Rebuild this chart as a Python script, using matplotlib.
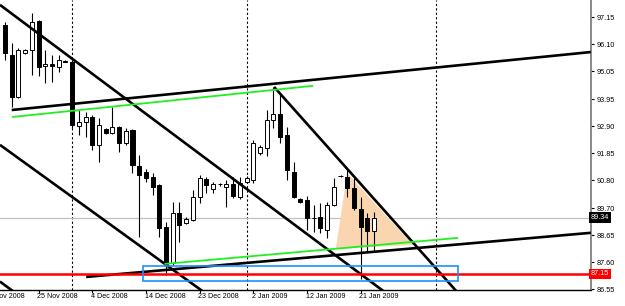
import numpy as np
import matplotlib.pyplot as plt
from matplotlib.patches import Rectangle, Polygon
import matplotlib.transforms as mtransforms

plt.rcParams['font.family'] = ['Liberation Sans', 'DejaVu Sans']

# Velas diarias (USDJPY), una por barra, desde el 19 Nov 2008 al 23 Ene 2009
aperturas = [96.86, 95.69, 94.05, 95.77, 95.88, 97.01, 95.26, 95.34, 95.22, 95.45,
             95.41, 92.92, 93.07, 93.27, 92.18, 92.80, 92.65, 92.88, 92.26, 92.76,
             91.36, 91.12, 90.93, 90.62, 88.98, 87.58, 89.53, 89.14, 89.25, 90.15,
             90.85, 90.46, 90.66, 90.54, 90.66, 90.15, 90.73, 90.81, 91.87, 92.06,
             93.15, 93.39, 92.57, 91.12, 90.07, 90.03, 89.33, 89.37, 88.86, 89.84,
             90.97, 90.93, 90.50, 89.68, 89.33, 88.84]
maximos = [96.97, 96.16, 95.96, 95.92, 97.33, 97.05, 95.88, 95.69, 95.69, 95.49,
           95.49, 93.54, 93.46, 93.35, 93.23, 92.84, 93.66, 92.92, 92.84, 92.80,
           91.79, 91.24, 91.09, 90.66, 89.17, 89.96, 89.96, 89.37, 90.42, 91.01,
           90.93, 90.73, 90.70, 90.81, 90.93, 90.93, 90.97, 92.37, 92.18, 93.54,
           94.44, 94.13, 92.88, 91.51, 90.11, 90.19, 89.84, 89.92, 89.96, 90.89,
           90.99, 91.20, 90.89, 90.15, 89.53, 89.56]
minimos = [95.49, 93.66, 94.01, 95.73, 94.91, 94.87, 94.60, 94.64, 95.03, 95.41,
           92.84, 92.57, 92.49, 91.98, 91.51, 92.61, 92.61, 91.90, 92.18, 91.09,
           88.59, 90.73, 90.23, 88.59, 87.11, 87.50, 88.40, 89.10, 89.21, 89.92,
           90.31, 90.31, 90.58, 89.76, 90.11, 90.07, 90.70, 90.70, 91.79, 91.75,
           92.84, 92.26, 90.81, 90.11, 89.92, 88.86, 88.78, 88.75, 88.55, 89.80,
           90.93, 90.15, 89.64, 86.95, 88.00, 88.00]
cierres = [95.77, 94.05, 95.88, 95.88, 96.97, 95.22, 95.34, 95.26, 95.49, 95.43,
           92.96, 93.07, 93.27, 92.18, 92.96, 92.65, 92.88, 92.26, 92.72, 91.40,
           91.01, 90.89, 90.54, 88.94, 87.54, 89.53, 89.06, 89.29, 90.15, 90.89,
           90.62, 90.66, 90.64, 90.66, 90.19, 90.70, 90.89, 92.26, 92.10, 93.15,
           93.39, 92.49, 91.20, 90.15, 89.96, 89.33, 89.31, 88.94, 89.84, 90.54,
           90.95, 90.50, 89.72, 88.98, 88.84, 89.34]

# Etiquetas de fecha (índice de barra donde empieza cada una)
fechas = ['16 Nov 2008', '25 Nov 2008', '4 Dec 2008', '14 Dec 2008',
          '23 Dec 2008', '2 Jan 2009', '12 Jan 2009', '21 Jan 2009']
fechas_idx = [-3, 5, 13, 21, 29, 37, 45, 53]

# Escala de precios
niveles = [97.15, 96.10, 95.05, 93.95, 92.90, 91.85, 90.80, 89.70, 88.65, 87.60, 86.55]

# Objetos dibujados (índice de barra, precio)
canal_sup = [(1.0, 93.54), (87.3, 95.80)]
canal_inf = [(12.1, 87.03), (87.3, 88.75)]
verde_sup = [(1.2, 93.27), (45.8, 94.48)]
verde_inf = [(23.9, 87.54), (67.4, 88.55)]
bajista_a = [(-0.75, 97.64), (57.0, 86.36)]
bajista_b = [(-0.75, 92.18), (30.0, 86.37)]
bajista_c = [(-0.75, 86.85), (2.7, 86.18)]
bajista_d = [(40.1, 94.44), (68.0, 86.26)]
triangulo = [(49.3, 88.12), (51.0, 91.08), (60.8, 88.28)]
caja_x = [20.6, 67.5]
caja_y = [86.87, 87.46]
soporte = 87.15
separadores = [10, 36, 64.2]

n = len(cierres)
idx = np.arange(n)
precio_actual = cierres[-1]

fig = plt.figure(figsize=(6.25, 3.06), dpi=100)
ax = fig.add_axes([0, 1 - 290 / 306, 591 / 625, 290 / 306])
ax.set_xlim(-0.745, 87.33)
ax.set_ylim(86.52, 97.83)

# separadores de periodo
for s in separadores:
    ax.axvline(s, color='black', lw=0.8, ls=(0, (2, 2)), zorder=1)

# precio actual
ax.axhline(precio_actual, color='#c0c0c0', lw=0.9, zorder=1)

# triángulo naranja
ax.add_patch(Polygon(triangulo, closed=True, facecolor='#f9d6b0', edgecolor='none', zorder=1.5))

# velas
ax.vlines(idx, minimos, maximos, color='black', lw=0.8, zorder=2)
for i in range(n):
    o, c = aperturas[i], cierres[i]
    sube = c >= o
    abajo = min(o, c)
    alto = max(abs(c - o), 0.02)
    ax.add_patch(Rectangle((i - 0.3, abajo), 0.6, alto,
                           facecolor='white' if sube else 'black',
                           edgecolor='black', lw=0.7, zorder=3))

# líneas de tendencia
for linea in [canal_sup, canal_inf, bajista_a, bajista_b, bajista_c, bajista_d]:
    xs, ys = zip(*linea)
    ax.plot(xs, ys, color='black', lw=1.9, zorder=4, solid_capstyle='butt')
for linea in [verde_sup, verde_inf]:
    xs, ys = zip(*linea)
    ax.plot(xs, ys, color='#22ee22', lw=1.3, zorder=4)

# soporte y zona
ax.axhline(soporte, color='#ff0000', lw=1.8, zorder=4)
ax.add_patch(Rectangle((caja_x[0], caja_y[0]), caja_x[1] - caja_x[0], caja_y[1] - caja_y[0],
                       facecolor='none', edgecolor='#1e8fff', lw=1.2, zorder=5))

# ejes
for lado in ['top', 'left']:
    ax.spines[lado].set_visible(False)
ax.spines['right'].set_color('#808080')
ax.spines['right'].set_linewidth(1.3)
ax.spines['bottom'].set_color('black')
ax.spines['bottom'].set_linewidth(1.0)

ax.yaxis.tick_right()
ax.set_yticks(niveles)
ax.set_yticklabels(['%.2f' % v for v in niveles])
ax.tick_params(axis='y', length=2.5, width=0.8, pad=1.5, labelsize=5.2, colors='black')
ax.set_xticks(fechas_idx[1:])
ax.set_xticklabels([])
ax.tick_params(axis='x', length=2, width=0.8)

trans = mtransforms.blended_transform_factory(ax.transData, ax.transAxes)
for f, xi in zip(fechas, fechas_idx):
    ax.text(xi - 0.2, -0.012, f, transform=trans, ha='left', va='top',
            fontsize=5.1, clip_on=False)

trans_y = mtransforms.blended_transform_factory(ax.transAxes, ax.transData)
for valor, fondo in [(precio_actual, 'black'), (soporte, '#ff0000')]:
    ax.text(1.0, valor, '%.2f' % valor, transform=trans_y, ha='left', va='center',
            fontsize=5.2, color='white', clip_on=False, zorder=10,
            bbox=dict(boxstyle='square,pad=0.25', facecolor=fondo, edgecolor='none'))

fig.savefig('out.png', dpi=100)
